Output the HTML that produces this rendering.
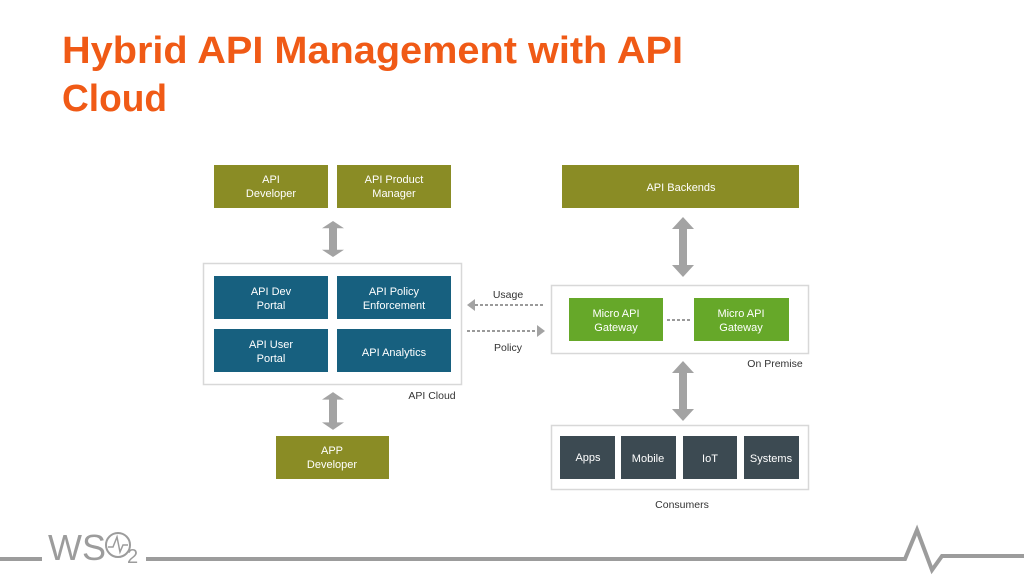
<!DOCTYPE html>
<html><head><meta charset="utf-8"><style>
html,body{margin:0;padding:0;background:#fff;width:1024px;height:576px;overflow:hidden}
svg{display:block}
text{font-family:"Liberation Sans",sans-serif}
</style></head><body>
<svg width="1024" height="576" viewBox="0 0 1024 576">
<defs>
<g id="darr">
<polygon points="0,-30 -11,-18 -4,-18 -4,18 -11,18 0,30 11,18 4,18 4,-18 11,-18" fill="#a3a3a3"/>
</g>
</defs>
<text x="62" y="63" font-size="38" font-weight="bold" fill="#f05a16" textLength="621" lengthAdjust="spacingAndGlyphs">Hybrid API Management with API</text>
<text x="62" y="111" font-size="38" font-weight="bold" fill="#f05a16" textLength="105" lengthAdjust="spacingAndGlyphs">Cloud</text>

<g font-size="11" fill="#fff" text-anchor="middle">
<rect x="214" y="165" width="114" height="43" fill="#8a8c25"/>
<text x="271" y="183">API</text><text x="271" y="197">Developer</text>
<rect x="337" y="165" width="114" height="43" fill="#8a8c25"/>
<text x="394" y="183">API Product</text><text x="394" y="197">Manager</text>

<rect x="203.5" y="263.5" width="258" height="121" fill="#fff" stroke="#d8d8d8" stroke-width="1.5"/>
<rect x="214" y="276" width="114" height="43" fill="#17607f"/>
<text x="271" y="295">API Dev</text><text x="271" y="309">Portal</text>
<rect x="337" y="276" width="114" height="43" fill="#17607f"/>
<text x="394" y="295">API Policy</text><text x="394" y="309">Enforcement</text>
<rect x="214" y="329" width="114" height="43" fill="#17607f"/>
<text x="271" y="348">API User</text><text x="271" y="362">Portal</text>
<rect x="337" y="329" width="114" height="43" fill="#17607f"/>
<text x="394" y="356">API Analytics</text>

<rect x="276" y="436" width="113" height="43" fill="#8a8c25"/>
<text x="332" y="454">APP</text><text x="332" y="468">Developer</text>

<rect x="562" y="165" width="237" height="43" fill="#8a8c25"/>
<text x="681" y="191">API Backends</text>

<rect x="551.5" y="285.5" width="257" height="68" fill="#fff" stroke="#d8d8d8" stroke-width="1.5"/>
<rect x="569" y="298" width="94" height="43" fill="#66a829"/>
<text x="616" y="317">Micro API</text><text x="616" y="331">Gateway</text>
<rect x="694" y="298" width="95" height="43" fill="#66a829"/>
<text x="741" y="317">Micro API</text><text x="741" y="331">Gateway</text>

<rect x="551.5" y="425.5" width="257" height="64" fill="#fff" stroke="#d8d8d8" stroke-width="1.5"/>
<rect x="560" y="436" width="55" height="43" fill="#3c4a52"/><text x="588" y="461">Apps</text>
<rect x="621" y="436" width="55" height="43" fill="#3c4a52"/><text x="648" y="462">Mobile</text>
<rect x="683" y="436" width="54" height="43" fill="#3c4a52"/><text x="710" y="462">IoT</text>
<rect x="744" y="436" width="55" height="43" fill="#3c4a52"/><text x="771" y="462">Systems</text>
</g>

<g font-size="10.5" fill="#333" text-anchor="middle">
<text x="508" y="298">Usage</text>
<text x="508" y="351">Policy</text>
<text x="432" y="399">API Cloud</text>
<text x="775" y="367">On Premise</text>
<text x="682" y="508">Consumers</text>
</g>

<line x1="475" y1="305" x2="545" y2="305" stroke="#9a9a9a" stroke-width="2" stroke-dasharray="3,2"/>
<polygon points="467,305 475,299 475,311" fill="#a3a3a3"/>
<line x1="467" y1="331" x2="537" y2="331" stroke="#9a9a9a" stroke-width="2" stroke-dasharray="3,2"/>
<polygon points="545,331 537,325 537,337" fill="#a3a3a3"/>
<line x1="667" y1="320" x2="690" y2="320" stroke="#9a9a9a" stroke-width="2" stroke-dasharray="3,2"/>

<use href="#darr" transform="translate(333,239) scale(1,0.6)"/>
<use href="#darr" transform="translate(333,411) scale(1,0.63)"/>
<use href="#darr" transform="translate(683,247)"/>
<use href="#darr" transform="translate(683,391) scale(1,1)"/>

<g stroke="#9c9c9c" stroke-width="4" fill="none">
<line x1="0" y1="559" x2="42" y2="559"/>
<polyline points="146,559 905,559 917,530 932,570 942,556 1024,556" stroke-linejoin="miter"/>
</g>
<text x="48" y="560" font-size="36" fill="#9c9c9c" textLength="58" lengthAdjust="spacingAndGlyphs">WS</text>
<circle cx="118" cy="545" r="12" fill="none" stroke="#9c9c9c" stroke-width="2"/>
<polyline points="108,547 113,547 117,537 120,552 123,545 128,545" fill="none" stroke="#9c9c9c" stroke-width="1.5"/>
<text x="127" y="563" font-size="20" fill="#9c9c9c">2</text>
</svg>
</body></html>
